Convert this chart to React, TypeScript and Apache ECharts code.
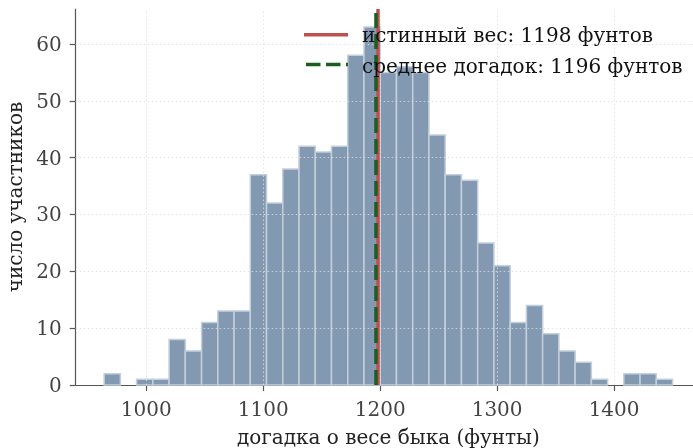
import React, { useEffect, useRef } from "react";
import * as echarts from "echarts";

// Histogram of guesses (35 bins)
const binStart = 964;
const binEnd = 1450;
const counts = [2, 0, 1, 1, 8, 6, 11, 13, 13, 37, 32, 38, 42, 41, 42, 58, 63, 55, 56, 55, 44, 37, 36, 25, 21, 11, 14, 9, 6, 4, 1, 0, 2, 2, 1];
const xTicks = [1000, 1100, 1200, 1300, 1400];
const yTicks = [0, 10, 20, 30, 40, 50, 60];
const trueWeight = 1198;
const meanGuess = 1196;
const legendLabels = ["истинный вес: 1198 фунтов", "среднее догадок: 1196 фунтов"];
const xName = "догадка о весе быка (фунты)";
const yName = "число участников";

const FONT = "DejaVu Serif";
const FS = 20;
const RED = "#c0504e";
const GREEN = "#1b5e20";

export default function App() {
  const ref = useRef<HTMLDivElement>(null);
  useEffect(() => {
    const chart = echarts.init(ref.current!, undefined, { renderer: "svg" });
    const w = (binEnd - binStart) / counts.length;
    const bins = counts.map((c, i) => [binStart + i * w, binStart + (i + 1) * w, c]);
    const xMin = 939.7;
    const xMax = 1474.3;
    const yMax = 66.15;
    const gridStyle = { color: "#dedede", type: [1.5, 2.5] as any, width: 0.8 };
    chart.setOption({
      animation: false,
      grid: { left: 75.7, top: 9, right: 0, bottom: 63, outerBoundsMode: "none", containLabel: false },
      xAxis: {
        type: "value",
        min: xMin,
        max: xMax,
        name: xName,
        nameLocation: "middle",
        nameGap: 42,
        nameTextStyle: { fontFamily: FONT, fontSize: FS, color: "#222" },
        axisLine: { show: true, onZero: false, lineStyle: { color: "#555", width: 1.2 } },
        axisTick: { show: true, length: 6, customValues: xTicks, lineStyle: { color: "#555", width: 1.2 } },
        axisLabel: { customValues: xTicks, margin: 14, fontFamily: FONT, fontSize: FS, color: "#444", formatter: (v: number) => String(v) },
        splitLine: { show: false },
      },
      yAxis: {
        type: "value",
        min: 0,
        max: yMax,
        name: yName,
        nameLocation: "middle",
        nameGap: 42,
        nameTextStyle: { fontFamily: FONT, fontSize: FS, color: "#222" },
        axisLine: { show: true, lineStyle: { color: "#555", width: 1.2 } },
        axisTick: { show: true, length: 6, customValues: yTicks, lineStyle: { color: "#555", width: 1.2 } },
        axisLabel: { customValues: yTicks, margin: 14, fontFamily: FONT, fontSize: FS, color: "#444", formatter: (v: number) => String(v) },
        splitLine: { show: false },
      },
      series: [
        {
          type: "line",
          data: [],
          silent: true,
          z: 1,
          markLine: {
            silent: true,
            symbol: "none",
            label: { show: false },
            lineStyle: gridStyle,
            data: [
              ...xTicks.map((v) => ({ xAxis: v })),
              ...yTicks.filter((v) => v > 0).map((v) => ({ yAxis: v })),
            ],
          },
        },
        {
          type: "custom",
          z: 2,
          data: bins,
          renderItem: (params: any, api: any) => {
            const c = api.value(2);
            if (!c) return null;
            const p0 = api.coord([api.value(0), c]);
            const p1 = api.coord([api.value(1), 0]);
            return {
              type: "rect",
              shape: { x: p0[0], y: p0[1], width: p1[0] - p0[0], height: p1[1] - p0[1] },
              style: { fill: "#8399b2", stroke: "#c3cfdc", lineWidth: 1.5 },
            };
          },
        },
        {
          type: "line",
          data: [],
          silent: true,
          z: 3,
          markLine: {
            silent: true,
            symbol: "none",
            label: { show: false },
            data: [
              { xAxis: trueWeight, lineStyle: { color: RED, width: 3.5, type: "solid" } },
              { xAxis: meanGuess, lineStyle: { color: GREEN, width: 3.5, type: [15, 6] } },
            ],
          },
        },
      ],
      graphic: [
        { type: "line", z: 10, shape: { x1: 304, y1: 34.7, x2: 348, y2: 34.7 }, style: { stroke: RED, lineWidth: 3.5 } },
        { type: "line", z: 10, shape: { x1: 306, y1: 64.5, x2: 348, y2: 64.5 }, style: { stroke: GREEN, lineWidth: 3.5, lineDash: [14.5, 5.5] } },
        { type: "text", z: 10, x: 362, y: 35, style: { text: legendLabels[0], font: `${FS}px '${FONT}'`, fill: "#111", textVerticalAlign: "middle" } },
        { type: "text", z: 10, x: 362, y: 66, style: { text: legendLabels[1], font: `${FS}px '${FONT}'`, fill: "#111", textVerticalAlign: "middle" } },
      ],
    });
    return () => chart.dispose();
  }, []);
  return <div ref={ref} style={{ position: "fixed", left: 0, top: 0, width: 701.2, height: 448 }} />;
}
